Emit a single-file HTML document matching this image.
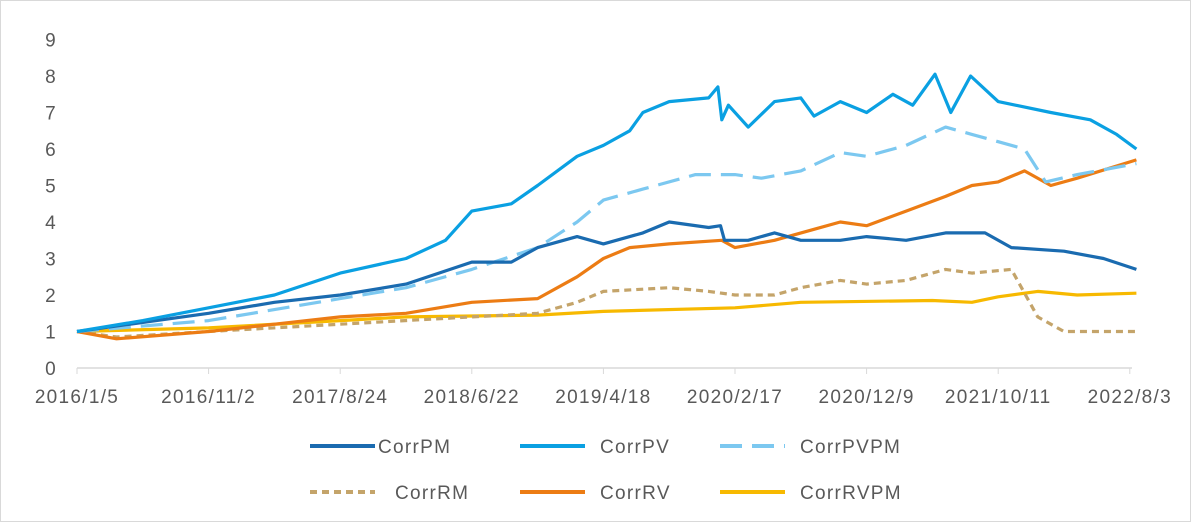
<!DOCTYPE html>
<html><head><meta charset="utf-8"><style>
html,body{margin:0;padding:0;background:#fff;}
body{width:1191px;height:522px;overflow:hidden;font-family:"Liberation Sans",sans-serif;}
#frame{position:absolute;left:0;top:0;width:1189px;height:520px;border:1px solid #d9d9d9;}
text{font-family:"Liberation Sans",sans-serif;fill:#595959;letter-spacing:1.3px;}
</style></head><body>
<div id="frame"></div>
<svg id="chart" width="1191" height="522" style="position:absolute;left:0;top:0"></svg>
<script>
const yTicks=[0,1,2,3,4,5,6,7,8,9];
const xTickLabels=["2016/1/5","2016/11/2","2017/8/24","2018/6/22","2019/4/18","2020/2/17","2020/12/9","2021/10/11","2022/8/3"];
const seriesNames=["CorrPM","CorrPV","CorrPVPM","CorrRM","CorrRV","CorrRVPM"];
const pmT=[0,1,1.5,2,2.5,3,3.3,3.5,3.8,4.0,4.3,4.5,4.8,4.89,4.92,5.1,5.3,5.5,5.8,6.0,6.3,6.6,6.9,7.1,7.5,7.8,8.05];
const pmV=[1.0,1.5,1.8,2.0,2.3,2.9,2.9,3.3,3.6,3.4,3.7,4.0,3.85,3.9,3.5,3.5,3.7,3.5,3.5,3.6,3.5,3.7,3.7,3.3,3.2,3.0,2.7];
const pvT=[0,0.5,1,1.5,2,2.5,2.8,3,3.3,3.5,3.8,4.0,4.2,4.3,4.5,4.8,4.87,4.9,4.95,5.1,5.3,5.5,5.6,5.8,6.0,6.2,6.35,6.52,6.64,6.79,7.0,7.4,7.7,7.9,8.05];
const pvV=[1.0,1.3,1.65,2.0,2.6,3.0,3.5,4.3,4.5,5.0,5.8,6.1,6.5,7.0,7.3,7.4,7.7,6.8,7.2,6.6,7.3,7.4,6.9,7.3,7.0,7.5,7.2,8.05,7.0,8.0,7.3,7.0,6.8,6.4,6.0];
const pvpmT=[0,1,1.5,2,2.5,3,3.5,3.8,4.0,4.3,4.7,5.0,5.2,5.5,5.8,6.0,6.3,6.6,6.8,7.0,7.2,7.36,7.6,8.05];
const pvpmV=[1.0,1.3,1.6,1.9,2.2,2.7,3.3,4.0,4.6,4.9,5.3,5.3,5.2,5.4,5.9,5.8,6.1,6.6,6.4,6.2,6.0,5.1,5.3,5.6];
const rmT=[0,0.3,1,2,3,3.5,3.8,4.0,4.5,4.8,5.0,5.3,5.5,5.8,6.0,6.3,6.6,6.8,7.1,7.3,7.5,8.05];
const rmV=[1.0,0.85,1.0,1.2,1.4,1.5,1.8,2.1,2.2,2.1,2.0,2.0,2.2,2.4,2.3,2.4,2.7,2.6,2.7,1.4,1.0,1.0];
const rvT=[0,0.3,1,1.5,2,2.5,3,3.5,3.8,4.0,4.2,4.5,4.9,5.0,5.3,5.6,5.8,6.0,6.3,6.6,6.8,7.0,7.2,7.4,7.6,8.05];
const rvV=[1.0,0.8,1.0,1.2,1.4,1.5,1.8,1.9,2.5,3.0,3.3,3.4,3.5,3.3,3.5,3.8,4.0,3.9,4.3,4.7,5.0,5.1,5.4,5.0,5.2,5.7];
const rvpmT=[0,1,2,2.5,3.5,4,5,5.5,6.5,6.8,7.0,7.3,7.6,8.05];
const rvpmV=[1.0,1.1,1.3,1.4,1.45,1.55,1.65,1.8,1.85,1.8,1.95,2.1,2.0,2.05];

const NS="http://www.w3.org/2000/svg";
const svg=document.getElementById('chart');
const X0=77,XS=131.6,Y0=368,YS=36.5;
function xs(t){return X0+t*XS;}
function ys(v){return Y0-v*YS;}
function mk(tag,attrs){const e=document.createElementNS(NS,tag);for(const k in attrs)e.setAttribute(k,attrs[k]);svg.appendChild(e);return e;}

yTicks.forEach(v=>{const t=mk('text',{x:57,y:ys(v)+7,'text-anchor':'end','font-size':19});t.textContent=v;

});
const ax=mk('line',{x1:X0,x2:1132,y1:Y0,y2:Y0,stroke:'#d9d9d9','stroke-width':1.5});


xTickLabels.forEach((l,i)=>{
 const tk=mk('line',{x1:xs(i),x2:xs(i),y1:Y0,y2:Y0+6,stroke:'#d9d9d9'});
 
 
 const t=mk('text',{x:xs(i),y:403,'text-anchor':'middle','font-size':19});t.textContent=l;
 
 });

const styles=[
 {c:'#1a6bb0',d:'',w:3.2},{c:'#0aa0e2',d:'',w:3.2},{c:'#7cc8f0',d:'22 10',w:3.2},
 {c:'#c4a46a',d:'7 5',w:3.2},{c:'#ec7c14',d:'',w:3.2},{c:'#f7b900',d:'',w:3.2}];
const data=[[pmT,pmV],[pvT,pvV],[pvpmT,pvpmV],[rmT,rmV],[rvT,rvV],[rvpmT,rvpmV]];
const order=[5,3,4,2,0,1];
order.forEach(i=>{
 const [T,V]=data[i];
 const d=T.map((t,j)=>(j?'L':'M')+xs(t).toFixed(1)+','+ys(V[j]).toFixed(1)).join(' ');
 const p=mk('path',{d:d,fill:'none',stroke:styles[i].c,'stroke-width':styles[i].w,'stroke-dasharray':styles[i].d,'stroke-linejoin':'round'});
 
 
});
const legPos=[[310,446],[520,446],[720,446],[310,492],[520,492],[720,492]];
const legTextX=[378,600,800,395,600,800];
seriesNames.forEach((n,i)=>{
 const [lx,ly]=legPos[i];
 const l=mk('line',{x1:lx,x2:lx+65,y1:ly,y2:ly,stroke:styles[i].c,'stroke-width':4,'stroke-dasharray':styles[i].d});
 
 
 const t=mk('text',{x:legTextX[i],y:ly+7,'font-size':19});t.textContent=n;
 
 
});
</script>
</body></html>
